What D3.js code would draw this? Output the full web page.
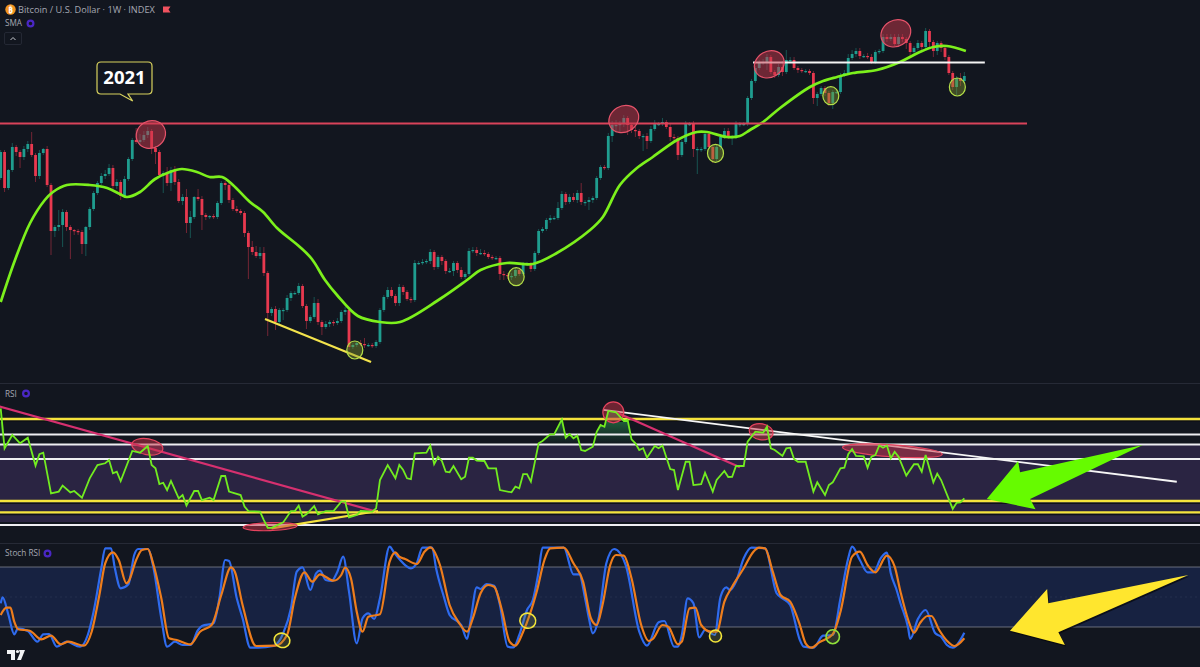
<!DOCTYPE html>
<html lang="en">
<head>
<meta charset="UTF-8">
<title>Bitcoin / U.S. Dollar 1W</title>
<script src="https://d3js.org/d3.v7.min.js"></script>
<style>
    body { margin: 0; background: #12161f; overflow: hidden; }
    svg { display: block; }
    text { font-family: 'Open Sans', 'Noto Sans', sans-serif; }
</style>
</head>
<body>
<svg id="chart" width="1200" height="667"></svg>
<script>
// price is on a relative (log) index, the picture has no price axis
const firstOpen = 202;
const closes = [
    228,192,210,233,228,223,231,236,225,204,
    227,231,195,149,153,155,168,153,150,149,
    148,136,153,171,187,197,204,206,212,194,
    198,184,201,221,240,238,240,245,249,232,
    228,205,207,197,210,198,179,183,157,163,
    183,181,165,163,164,163,177,197,195,180,
    171,169,167,147,133,128,124,127,107,67,
    71,58,70,70,82,87,87,94,74,59,
    63,77,58,53,56,58,57,59,68,70,
    33,35,37,36,35,35,34,38,70,83,
    90,84,77,93,88,81,80,117,117,118,
    119,128,113,123,119,109,109,117,110,103,
    106,129,130,127,127,126,123,122,122,106,
    105,104,104,110,106,116,116,111,127,149,
    151,160,162,162,172,186,178,183,180,187,
    178,178,180,182,202,213,212,244,255,255,
    256,262,255,250,249,244,244,239,251,256,
    256,258,253,243,242,225,238,256,256,231,
    231,231,246,233,221,233,243,249,243,243,
    256,256,256,282,299,312,317,318,323,308,
    305,313,308,320,320,312,310,309,309,307,
    282,286,292,287,277,288,288,305,307,322,
    326,329,324,324,323,318,328,329,343,341,
    343,336,343,341,337,328,332,337,333,349,
    338,329,337,332,323,307,293,302,299,304
];
const wickUp = [
    2,2,1,4,2,2,3,3,12,2, 3,1,3,2,2,15,3,2,2,1, 2,2,1,2,2,2,3,4,4,3, 3,2,3,2,2,12,6,4,4,2,
    2,2,2,6,3,4,3,3,8,6, 1,8,3,2,1,2,2,2,2,3, 2,3,2,2,2,6,6,6,6,2, 2,3,2,2,3,2,2,3,2,2,
    2,6,4,2,3,2,2,3,2,3, 2,2,2,3,6,2,2,2,2,2, 3,3,2,3,2,2,2,3,2,3, 2,3,2,2,2,2,3,2,2,3,
    2,3,3,3,4,3,2,2,2,2, 3,2,3,2,2,2,2,2,2,2, 2,2,3,2,6,3,2,3,4,3, 10,2,3,2,2,2,2,3,4,5,
    3,3,2,2,3,2,2,3,3,4, 2,4,2,3,3,2,2,3,2,3, 2,2,2,2,2,2,2,3,3,2, 3,2,2,2,2,2,3,3,3,2,
    2,3,6,10,3,3,2,2,2,2, 2,2,2,2,2,2,2,2,3,4, 4,3,3,2,3,3,2,2,3,3, 3,3,3,3,2,2,2,3,2,3,
    2,2,2,2,3,2,2,2,5,4
];
const wickDown = [
    2,4,2,2,4,11,3,3,2,6, 3,2,2,24,6,4,22,4,29,4, 3,10,12,3,2,2,2,3,2,4, 3,4,2,2,2,2,2,2,3,6,
    12,2,18,3,8,3,2,4,10,15, 2,2,15,3,2,2,2,2,5,3, 2,2,2,4,32,3,2,3,3,23, 3,8,2,10,2,3,2,2,2,8,
    2,2,3,8,2,3,3,2,2,3, 3,2,2,2,3,2,2,2,2,2, 2,2,3,3,3,2,3,2,2,2, 2,3,3,2,4,3,2,5,3,2,
    2,2,2,3,2,2,2,2,2,6, 5,3,4,2,2,2,2,3,2,2, 2,2,3,2,2,2,3,2,2,3, 3,4,8,3,2,2,2,2,6,8,
    8,3,10,3,6,3,15,8,2,2, 2,2,2,4,4,5,2,2,2,8, 25,3,2,2,4,2,3,2,2,8, 2,3,2,2,2,2,2,2,8,2,
    3,2,4,2,3,2,3,2,2,2, 6,8,2,3,3,6,2,2,2,2, 2,3,3,2,2,2,2,2,2,3, 2,2,3,3,6,5,2,2,4,3,
    5,6,4,4,3,2,3,8,5,2
];
const smaPoints = [
    [0,78],[3.7,120],[7.6,157],[11.4,180],[13.5,188],[17.1,195],[23,195],[27.5,192],[30.8,186],[32.6,183],
    [36,188],[39.9,201],[43.7,208],[46.8,211],[50.7,208],[54,203],[57.2,203],[60,195],[64.4,178],[67.8,168],
    [71.4,152],[77.3,133],[80.4,121],[83.8,100],[86.9,85],[92.3,64],[98,58],[103.2,58],[113.5,81],[120.5,100],
    [124,110],[130.8,117],[137.5,116],[143.7,127],[152.3,150],[155.6,163],[160,195],[164.4,212],[168.5,223],
    [174.8,240],[179.9,248],[182.5,248],[187.7,243],[191,244],[193.6,250],[197,258],[201.4,272],[209.1,293],
    [212.5,299],[216.1,303],[220.2,307],[226.4,310],[232.4,318],[237.5,328],[241,333],[244.5,334],[249.4,329]
];
const rsiPoints = [
    [0,89],[1,68.3],[3,75.2],[5,70.9],[7,73.8],[9,59.3],[10,65.2],[11,66],[13,44.9],[15,45.8],[16,48.9],[18,45.4],
    [19,46.1],[21,42.6],[23,52.7],[25,59.6],[27,60.5],[28,62.2],[29,55.3],[30,56.1],[31,51.3],[34,66.9],[36,66],
    [38,69.5],[39,59.6],[40,57.9],[41,49.7],[42,50.4],[43,46.6],[44,51.3],[46,42.3],[47,44],[48,38.5],[50,46.1],
    [51,46.1],[52,41.4],[54,42.6],[55,41.4],[57,53.9],[58,53.9],[59,45.8],[62,44],[63,38],[64,35.7],[67,35.4],
    [68,31],[69,27],[70,27],[73,29.8],[75,35.7],[76,35.7],[77,38.5],[78,32.8],[79,34],[81,38.3],[82,34],[84,35.7],
    [86,35.7],[88,40.6],[89,40.6],[90,32.4],[92,33.6],[93,35.7],[96,35.4],[97,37.1],[98,51.8],[100,59.6],[102,52.7],
    [103,59.6],[104,57],[105,52.7],[106,52.3],[107,65.7],[110,66],[111,69.7],[112,60.1],[113,63.9],[114,61.7],
    [115,56.1],[116,55.8],[117,59.1],[119,52.2],[120,53.5],[121,63.4],[122,63.4],[123,61.9],[125,61.7],[126,57.9],
    [128,57.9],[129,46.6],[132,45.4],[133,48.4],[134,47.5],[135,54.9],[136,54.9],[137,51],[139,70.9],[140,72.1],
    [142,75.5],[143,75.5],[145,83.3],[146,73.8],[147,75.7],[148,73.5],[149,74.8],[150,67.4],[151,66.9],[153,69.1],
    [154,76.9],[155,80.4],[156,79.5],[157,87.7],[159,87],[161,82.5],[162,83],[163,72.9],[164,70.9],[165,67.4],
    [166,68.3],[167,63.4],[169,69.5],[170,68.3],[171,69.7],[173,57.5],[174,57],[175,46.6],[177,61.3],[178,61.3],
    [179,49.2],[181,49.7],[182,55.6],[184,45.8],[185,51.8],[187,56.5],[188,53.4],[189,53.5],[190,59.1],[192,59.1],
    [193,71.7],[195,76.9],[197,76.4],[198,79.5],[199,68.3],[200,67.4],[202,64.3],[203,68.3],[204,68.6],[205,62.7],
    [206,61.3],[208,61.3],[210,45.8],[211,50.6],[213,44],[214,49.2],[215,50.6],[217,57.9],[218,58.2],[219,65.2],
    [220,67.9],[221,64.3],[223,64.1],[224,58.2],[225,63.9],[226,64.8],[227,69.7],[228,68.6],[229,69.7],[230,63.1],
    [231,66.5],[232,63.9],[234,54.1],[236,60],[237,60],[238,56.1],[239,64.8],[241,50.6],[242,55.1],[243,51.8],
    [246,36.8],[247,40],[248,40.2],[249,42.3]
];
const stochK = [
    [0,43.7],[0.5,49.7],[2,32],[3.5,12.7],[4.5,18.7],[7,16],[9.5,5.3],[11,12.7],[12.5,13],[14.5,0.3],[17,5.3],[20.5,0.3],
    [22.5,12],[24,35.3],[26,78.7],[27,98.7],[28.5,98.7],[29.5,78.7],[31,58.7],[33,62.7],[34.5,92],[35.5,98],[38,98],
    [39.5,78.7],[41.5,28.7],[43,0.3],[45,5.3],[47,2],[49,2],[51,17],[52,21],[55,23.7],[56.5,48.7],[58,87],[59,86],
    [61,48.7],[62.5,28.7],[64.5,-0.7],[66.5,-0.7],[70.5,1],[73,13.7],[75,38.7],[76.5,75.3],[78,79.7],[80,57],[81.5,73.7],
    [82.5,76.3],[84,67],[85.5,66],[87,75.3],[88.5,90.3],[90,55.3],[92,3.7],[93.5,28.7],[95,33.7],[96.5,28],[98,48.7],
    [100.5,100.3],[101.5,95.3],[103,88],[106,78.7],[107.5,83.7],[109,99.3],[111.5,99.3],[112.5,78.7],[114.5,50.3],[116,32],
    [119,22],[120.5,8],[121.5,28.7],[123,59.7],[124,58],[125.5,63],[127.5,61.3],[129,42],[131,0.3],[132.5,-0.3],[134,12],
    [136,37],[137.5,47],[139,75.3],[140,99.3],[145.5,99.3],[148,72.7],[149.5,72.7],[151,48.7],[152,28.7],[153,13.7],
    [154.5,28.7],[156.5,83.7],[158.5,98],[161.5,82],[165,15.3],[167,1.3],[170,24.7],[171.5,26],[174,0.3],[175,0.3],[176,12],
    [177.5,48.7],[179,43.7],[180.5,9.7],[182,17],[184.5,12],[186,50.3],[187.5,59.7],[188.5,57],[190,65.3],[192,88.7],
    [194,99.3],[197.5,98.7],[200.5,53.7],[202,48.7],[204,42],[206.5,7],[207.5,0.3],[210,-0.7],[212.5,11.3],[215,12],
    [217,48.7],[219,88.7],[220,100.3],[222,87],[224,74.7],[225.5,74.7],[227.5,89.3],[229,94.3],[230,73.7],[231.5,57],
    [232.5,43.7],[234.5,18.7],[235,8],[237,28],[239,37],[241.5,13.7],[243,10.3],[244.5,2],[246,-0.7],[249,14.3]
];
const stochD = [
    [0,32],[1.5,39.3],[2.5,39.3],[3.5,25.3],[4.5,17.7],[7.5,16.3],[10.5,7.7],[13,11.3],[15.5,2.7],[17.5,5.3],[21.5,1.3],
    [23.5,15.3],[25.5,52],[27,83.7],[29,94.7],[30.5,87],[32.5,63.7],[33,65.3],[35,87],[36.5,97],[38,98],[39.5,82],
    [41.5,48.7],[43.5,8.7],[45.5,7],[49,2.7],[51.5,15.3],[54.5,22],[57,52],[59.5,79.7],[60.5,75.3],[62.5,42],[66,1],
    [71,1.3],[74,12],[76,48.7],[78.5,74.7],[80.5,65.3],[82.5,72.7],[86,66.3],[88,72],[89,79.3],[90.5,68.7],[92,35.3],
    [93.5,15.3],[95,30.3],[98,32.7],[100.5,85.3],[102,94.7],[103,90.3],[104.5,88],[107.5,83],[109.5,95.3],[111,99.7],
    [113.5,82],[116,42],[118.5,23.7],[120.5,15.3],[122,28.7],[124,53.7],[126,62],[127.5,60.3],[129.5,37],[131.5,5.3],
    [133,1.3],[135,15.3],[138.5,55.3],[140.5,87],[142,98.7],[145.5,99.3],[148,83.7],[150.5,65.3],[152.5,28.7],[154,22],
    [155.5,42],[157.5,82],[159,92],[161,91.3],[163,68.7],[165.5,22],[167.5,6],[168.5,8],[171,22],[172.5,20.3],[175,2.7],
    [176,5.3],[178,38.7],[179.5,39.3],[181,22],[183.5,15.3],[185,15.3],[187,45.3],[189,60.3],[192,78.7],[194.5,95.3],
    [196,99.3],[197.5,98.7],[199.5,75.3],[201.5,52],[204,45.3],[206.5,22],[208,3.7],[209.5,-0.7],[211.5,4.7],[215,12.7],
    [217,35.3],[220,90.3],[222,95.3],[224,82],[226,74.7],[229,91.3],[231,80.3],[232.5,55.3],[234.5,27],[236,14.3],
    [237.5,23.7],[239.5,31],[240.5,31],[242.5,17],[244.5,6.3],[246.5,1],[249,8.7]
];
const rsiYellowLevels = [83.5, 40.9, 35];
const rsiWhiteLevels = [75.4, 70.2, 62.7, 28.4];
const stochLevels = [80, 20];

// drawn trend lines [bar, value, bar, value]
const priceRedLine = [-1, 256.5, 265.2, 256.5];
const priceWhiteLine = [194.4, 317.5, 254.3, 317.5];
const priceYellowLine = [68.3, 61, 95.7, 18];
const rsiPinkLines = [[-1, 90.4, 97, 35.4], [159, 87, 191, 58.4]];
const rsiWhiteTrend = [155.7, 88.2, 303.9, 50.9];
const rsiYellowTrend = [70, 26.7, 97.5, 35.7];

// circled spots [bar, value, rx, ry, tilt]
const priceTops = [[38.8,245.5,15,13.5,-30],[161,261,15.5,13,-30],[198.6,315.7,15.5,13,-30],[231.3,346.7,15.5,13,-30]];
const priceBottoms = [[91.5,30,8,9,0],[133.2,103.3,8,9,0],[184.7,226.7,8,9,0],[214.5,284.3,8,9,0],[247.2,293,8,9,0]];
const rsiMarks = [[37.9,69.1,15.7,8,10],[69.6,27.6,27,4,-2],[158.3,87,10.5,10.5,0],[196.5,76.9,12,8,10],[230.4,67,50,6,4]];
const stochMarks = [[72.7,6.7,8,7,20,"#f2e53a"],[136.2,26.3,8,7.5,20,"#f2e53a"],[184.7,11,6,6,0,"#f2e53a"],[215,10.3,6.7,7,0,"#8fe03a"]];

const greenArrow = [[295.1,70],[263.4,55.8],[262.9,61.7],[254.8,42],[267.4,36.6],[266,42]];
const yellowArrow = [[306.9,72],[270.7,43.7],[270.4,58],[260.8,16.3],[275,2],[273.3,14.7]];

const width = 1200, height = 667;
const svg = d3.select("#chart");

const x = d3.scaleLinear().domain([0, 310]).range([0.7, 0.7 + 3.87 * 310]);
const yPrice = d3.scaleLinear().domain([0, 380]).range([380, 0]);
const yRsi = d3.scaleLinear().domain([30, 70]).range([522, 445]);
const yStoch = d3.scaleLinear().domain([0, 100]).range([647, 547]);

const bars = closes.map((c, i) => ({
    i: i,
    open: i ? closes[i - 1] : firstOpen,
    close: c,
    up: wickUp[i],
    down: wickDown[i]
}));

// panes
svg.append("rect").attr("width", width).attr("height", height).attr("fill", "#12161f");
svg.append("rect").attr("x", 0).attr("width", width)
    .attr("y", yRsi(70)).attr("height", yRsi(30) - yRsi(70)).attr("fill", "#2a2442");
svg.append("rect").attr("x", 0).attr("width", width)
    .attr("y", yStoch(80)).attr("height", yStoch(20) - yStoch(80)).attr("fill", "#172241");
svg.selectAll(".sep").data([383.5, 543.5]).join("line").attr("class", "sep")
    .attr("x1", 0).attr("x2", width).attr("y1", d => d).attr("y2", d => d)
    .attr("stroke", "#262a36").attr("stroke-width", 1);

// candles
const candleColor = d => d.close >= d.open ? "#1f9d8f" : "#e8394f";
svg.append("g").selectAll("line").data(bars).join("line")
    .attr("x1", d => x(d.i)).attr("x2", d => x(d.i))
    .attr("y1", d => yPrice(Math.max(d.open, d.close) + d.up))
    .attr("y2", d => yPrice(Math.min(d.open, d.close) - d.down))
    .attr("stroke", candleColor).attr("stroke-opacity", 0.5).attr("stroke-width", 0.9);
svg.append("g").selectAll("rect").data(bars).join("rect")
    .attr("x", d => x(d.i) - 1.4).attr("width", 2.8)
    .attr("y", d => yPrice(Math.max(d.open, d.close)))
    .attr("height", d => Math.max(1.2, Math.abs(yPrice(d.open) - yPrice(d.close))))
    .attr("fill", candleColor);

// sma
svg.append("path").datum(smaPoints)
    .attr("d", d3.line().x(d => x(d[0])).y(d => yPrice(d[1])).curve(d3.curveCatmullRom))
    .attr("fill", "none").attr("stroke", "#7cf01c").attr("stroke-width", 2.7);

function segment(parent, s, yScale, color, w) {
    return parent.append("line")
        .attr("x1", x(s[0])).attr("y1", yScale(s[1]))
        .attr("x2", x(s[2])).attr("y2", yScale(s[3]))
        .attr("stroke", color).attr("stroke-width", w);
}
function rings(list, yScale, fill, stroke, w) {
    svg.append("g").selectAll("ellipse").data(list).join("ellipse")
        .attr("rx", d => d[2]).attr("ry", d => d[3])
        .attr("transform", d => `translate(${x(d[0])},${yScale(d[1])}) rotate(${d[4]})`)
        .attr("fill", fill).attr("stroke", d => d[5] || stroke).attr("stroke-width", w);
}

segment(svg, priceRedLine, yPrice, "#d9435a", 1.8);
segment(svg, priceWhiteLine, yPrice, "#f4f4f4", 2);
segment(svg, priceYellowLine, yPrice, "#f3e34c", 2.2);
rings(priceTops, yPrice, "rgba(200,55,75,0.5)", "#e5536a", 1.2);
rings(priceBottoms, yPrice, "rgba(130,150,45,0.42)", "#b5e048", 1.2);

// rsi pane
const defs = svg.append("defs");
const grad = defs.append("linearGradient").attr("id", "rsiOver")
    .attr("gradientUnits", "userSpaceOnUse")
    .attr("x1", 0).attr("x2", 0).attr("y1", yRsi(90)).attr("y2", yRsi(70));
grad.append("stop").attr("offset", 0).attr("stop-color", "#2fae5a").attr("stop-opacity", 0.75);
grad.append("stop").attr("offset", 1).attr("stop-color", "#2fae5a").attr("stop-opacity", 0);
defs.append("clipPath").attr("id", "aboveOver").append("rect")
    .attr("x", 0).attr("width", width).attr("y", 384).attr("height", yRsi(70) - 384);
svg.append("path").datum(rsiPoints)
    .attr("d", d3.area().x(d => x(d[0])).y0(yRsi(70)).y1(d => yRsi(d[1])))
    .attr("fill", "url(#rsiOver)").attr("clip-path", "url(#aboveOver)");

const levelLine = (v, color, w) => segment(svg, [-1, v, 310, v], yRsi, color, w);
rsiYellowLevels.forEach(v => {
    svg.append("line").attr("x1", 0).attr("x2", width)
        .attr("y1", yRsi(v) + 2.2).attr("y2", yRsi(v) + 2.2)
        .attr("stroke", "#0e1018").attr("stroke-width", 1.5);
    levelLine(v, "#f5e33c", 2.4);
});
rsiWhiteLevels.forEach(v => levelLine(v, "#eeeef2", 2));

segment(svg, rsiWhiteTrend, yRsi, "#f6f6f6", 1.8);
rsiPinkLines.forEach(s => segment(svg, s, yRsi, "#d6306f", 2.2));
segment(svg, rsiYellowTrend, yRsi, "#f5e33c", 2.2);
rings(rsiMarks, yRsi, "rgba(200,50,70,0.5)", "#e5435e", 1.2);

svg.append("path").datum(rsiPoints)
    .attr("d", d3.line().x(d => x(d[0])).y(d => yRsi(d[1])))
    .attr("fill", "none").attr("stroke", "#72ec20").attr("stroke-width", 1.8);

// stoch pane
stochLevels.forEach(v => {
    svg.append("line").attr("x1", 0).attr("x2", width)
        .attr("y1", yStoch(v)).attr("y2", yStoch(v))
        .attr("stroke", "#8d919c").attr("stroke-width", 0.7);
});
svg.append("line").attr("x1", 0).attr("x2", width).attr("y1", yStoch(50)).attr("y2", yStoch(50))
    .attr("stroke", "#2a3355").attr("stroke-width", 0.7).attr("stroke-dasharray", "2 3");

const stochLine = d3.line().x(d => x(d[0])).y(d => yStoch(d[1])).curve(d3.curveMonotoneX);
svg.append("path").datum(stochK).attr("d", stochLine)
    .attr("fill", "none").attr("stroke", "#2f6bee").attr("stroke-width", 2.2);
svg.append("path").datum(stochD).attr("d", stochLine)
    .attr("fill", "none").attr("stroke", "#ee7d1c").attr("stroke-width", 2.2);
rings(stochMarks, yStoch, "rgba(130,140,70,0.25)", "#f2e53a", 1.6);

// arrows
function arrow(points, yScale, color) {
    svg.append("polygon")
        .attr("points", points.map(p => [x(p[0]), yScale(p[1])].join(",")).join(" "))
        .attr("fill", color);
}
svg.append("polygon")
    .attr("points", yellowArrow.map(p => [x(p[0]) + 1, yStoch(p[1]) + 1.5].join(",")).join(" "))
    .attr("fill", "#05060a").attr("fill-opacity", 0.7);
arrow(yellowArrow, yStoch, "#ffe62e");
arrow(greenArrow, yRsi, "#66fb00");

// 2021 callout
const callout = svg.append("g");
callout.append("path")
    .attr("d", "M101,62 H148 Q152,62 152,66 V90 Q152,94 148,94 H128 L132.7,101 L120,94 H101 Q97,94 97,90 V66 Q97,62 101,62 Z")
    .attr("fill", "#12161f").attr("stroke", "#d8d25e").attr("stroke-width", 1.2);
callout.append("text").attr("x", 124.5).attr("y", 83.5).attr("text-anchor", "middle")
    .attr("font-size", 18.5).attr("font-weight", 700).attr("fill", "#ffffff").text("2021");

// header and pane labels
const labelColor = "#a5a8b2";
svg.append("circle").attr("cx", 10.5).attr("cy", 9.5).attr("r", 5.2).attr("fill", "#f2931e");
svg.append("text").attr("x", 10.5).attr("y", 12.5).attr("text-anchor", "middle")
    .attr("font-size", 8).attr("font-weight", 700).attr("fill", "#fff").text("₿");
svg.append("text").attr("x", 18).attr("y", 13).attr("font-size", 9.2).attr("fill", labelColor)
    .text("Bitcoin / U.S. Dollar · 1W · INDEX");
svg.append("path").attr("d", "M163,6.5 H170.5 L168.5,9.5 L170.5,12.5 H163 Z").attr("fill", "#f0525f");

const paneLabels = [["SMA", 5, 26], ["RSI", 5, 397], ["Stoch RSI", 5, 556]];
const paneIcons = [[30.5, 23.5], [26, 393.5], [47.5, 553.5]];
svg.selectAll(".pane-label").data(paneLabels).join("text").attr("class", "pane-label")
    .attr("x", d => d[1]).attr("y", d => d[2]).attr("font-size", 8.2).attr("fill", labelColor)
    .text(d => d[0]);
svg.selectAll(".pane-icon").data(paneIcons).join("circle").attr("class", "pane-icon")
    .attr("cx", d => d[0]).attr("cy", d => d[1]).attr("r", 2.9)
    .attr("fill", "none").attr("stroke", "#4a27c4").attr("stroke-width", 2.2);

svg.append("rect").attr("x", 4.5).attr("y", 32.5).attr("width", 17).attr("height", 12).attr("rx", 1.5)
    .attr("fill", "none").attr("stroke", "#242834");
svg.append("path").attr("d", "M10.5,40 L13,37.5 L15.5,40").attr("fill", "none").attr("stroke", "#c8cad0").attr("stroke-width", 1);

// tradingview mark
svg.append("path").attr("d", "M7,650 H15 V660 H11 V654 H7 Z M19,650 H25 L21,660 H17 L20,653 Z").attr("fill", "#f2f3f5");
svg.append("circle").attr("cx", 17.5).attr("cy", 651.5).attr("r", 1.6).attr("fill", "#f2f3f5");
</script>
</body>
</html>
